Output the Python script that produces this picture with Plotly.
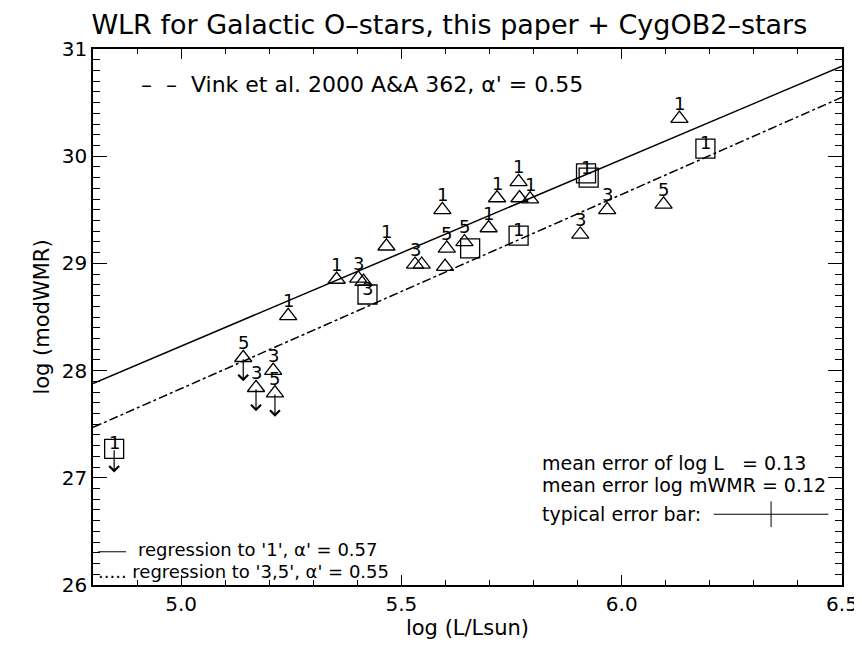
import plotly.graph_objects as go

# --- this paper: triangles, label = class ---
tri_x = [5.243, 5.353, 5.466, 5.402, 5.414, 5.531, 5.546, 5.593, 5.603, 5.599,
         5.643, 5.698, 5.717, 5.766, 5.768, 5.792, 5.906, 5.967, 6.095, 6.131, 5.209]
tri_y = [28.51, 28.85, 29.16, 28.86, 28.83, 28.99, 28.99, 29.50, 29.14, 28.97,
         29.20, 29.33, 29.61, 29.76, 29.61, 29.60, 29.27, 29.50, 29.55, 30.35, 28.00]
tri_lab = ['1', '1', '1', '3', '', '3', '', '1', '5', '', '5',
           '1', '1', '1', '', '1', '3', '3', '5', '1', '3']

# upper limits (triangles)
tlim_x = [5.141, 5.170, 5.213]
tlim_y = [28.12, 27.84, 27.79]
tlim_lab = ['5', '3', '5']

# --- CygOB2 stars: squares ---
sq_x = [5.423, 5.656, 5.766, 5.919, 5.925, 6.190]
sq_y = [28.71, 29.14, 29.26, 29.84, 29.80, 30.07]
sq_lab = ['3', '', '1', '1', '', '1']

# upper limit (square)
slim_x = [4.848]
slim_y = [27.27]
slim_lab = ['1']

# --- regression lines (end points at the frame) ---
reg_x = [4.8, 6.5]
reg1_y = [27.88, 30.84]     # to '1', alpha' = 0.57
reg35_y = [27.47, 30.55]    # to '3,5', alpha' = 0.55

# typical error bar
err_logL = 0.13
err_wmr = 0.12
err_pos = (6.339, 26.66)

lim_len = 0.22
FONT = 'DejaVu Sans'

fig = go.Figure()

fig.add_trace(go.Scatter(x=reg_x, y=reg1_y, mode='lines',
                         line=dict(color='black', width=1.5)))
fig.add_trace(go.Scatter(x=reg_x, y=reg35_y, mode='lines',
                         line=dict(color='black', width=1.5, dash='dashdot')))

fig.add_trace(go.Scatter(x=tri_x + tlim_x, y=tri_y + tlim_y, mode='markers',
                         marker=dict(symbol='triangle-up-open', size=15,
                                     color='black', line=dict(width=1.3))))
fig.add_trace(go.Scatter(x=sq_x + slim_x, y=sq_y + slim_y, mode='markers',
                         marker=dict(symbol='square-open', size=19,
                                     color='black', line=dict(width=1.3))))

fig.add_trace(go.Scatter(x=[err_pos[0]], y=[err_pos[1]], mode='markers',
                         marker=dict(size=1, color='black'),
                         error_x=dict(type='constant', value=err_logL, width=0,
                                      color='black', thickness=1),
                         error_y=dict(type='constant', value=err_wmr, width=0,
                                      color='black', thickness=1)))

annotations = []

# class labels
for x, y, t in zip(tri_x + tlim_x, tri_y + tlim_y, tri_lab + tlim_lab):
    if t:
        annotations.append(dict(x=x, y=y, text=t, showarrow=False, yshift=15,
                                font=dict(size=18, color='black', family=FONT)))
for x, y, t in zip(sq_x + slim_x, sq_y + slim_y, sq_lab + slim_lab):
    if t:
        annotations.append(dict(x=x, y=y, text=t, showarrow=False, yshift=6,
                                font=dict(size=18, color='black', family=FONT)))

# upper-limit arrows
for x, y in zip(tlim_x + slim_x, tlim_y + slim_y):
    annotations.append(dict(x=x, y=y - lim_len, ax=x, ay=y, xref='x', yref='y',
                            axref='x', ayref='y', text='', showarrow=True,
                            arrowhead=4, arrowsize=1.6, arrowwidth=1.2,
                            arrowcolor='black'))

txt = dict(size=19, color='black', family=FONT)
reg_font = dict(size=18, color='black', family=FONT)
annotations += [
    dict(x=4.905, y=30.67, xanchor='left', text="\u2013  \u2013  Vink et al. 2000 A&A 362, \u03b1' = 0.55",
         showarrow=False, font=dict(size=22, color='black', family=FONT)),
    dict(x=4.898, y=26.33, xanchor='left', text="regression to '1', \u03b1' = 0.57",
         showarrow=False, font=reg_font),
    dict(x=4.807, y=26.13, xanchor='left', text="..... regression to '3,5', \u03b1' = 0.55",
         showarrow=False, font=reg_font),
    dict(x=5.815, y=27.14, xanchor='left', text="mean error of log L&nbsp;&nbsp;&nbsp;= 0.13",
         showarrow=False, font=txt),
    dict(x=5.815, y=26.93, xanchor='left', text="mean error log mWMR = 0.12",
         showarrow=False, font=txt),
    dict(x=5.815, y=26.66, xanchor='left', text="typical error bar:",
         showarrow=False, font=txt),
]

shapes = [dict(type='line', xref='x', yref='y', x0=4.812, x1=4.875, y0=26.31, y1=26.31,
               line=dict(color='black', width=1))]

fig.update_layout(
    width=862, height=647,
    margin=dict(l=85, r=28, t=41, b=70),
    paper_bgcolor='white', plot_bgcolor='white',
    showlegend=False,
    font=dict(family=FONT, color='black'),
    title=dict(text='WLR for Galactic O\u2013stars, this paper + CygOB2\u2013stars',
               x=0.512, xanchor='center', y=0.974, yanchor='middle',
               font=dict(size=27, family=FONT, color='black')),
    annotations=annotations,
    shapes=shapes,
)

axis_common = dict(showline=True, linecolor='black', linewidth=1.5, mirror='allticks',
                   showgrid=False, zeroline=False, ticks='inside',
                   tickcolor='black', tickwidth=1.2,
                   tickfont=dict(size=20, family=FONT, color='black'))

fig.update_xaxes(range=[4.8, 6.5], tick0=5.0, dtick=0.5, ticklen=10,
                 tickformat='.1f',
                 minor=dict(dtick=0.1, ticks='inside', ticklen=5, tickcolor='black'),
                 title=dict(text='log (L/Lsun)', font=dict(size=21, family=FONT), standoff=6),
                 **axis_common)
fig.update_yaxes(range=[26, 31], dtick=1, ticklen=14,
                 minor=dict(dtick=0.1, ticks='inside', ticklen=7, tickcolor='black'),
                 title=dict(text='log (modWMR)', font=dict(size=21, family=FONT), standoff=6),
                 **axis_common)

fig.write_html("out.html")
